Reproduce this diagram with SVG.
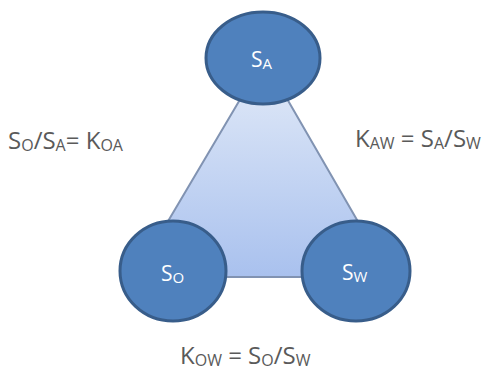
<svg xmlns="http://www.w3.org/2000/svg" width="487" height="370" viewBox="0 0 487 370">
<defs>
<linearGradient id="triFill" x1="0" y1="0" x2="0" y2="1">
<stop offset="0" stop-color="#e3ebf8"/>
<stop offset="1" stop-color="#a9c1ee"/>
</linearGradient>
<style>
.node{fill:#4f81bd;stroke:#385d8a;stroke-width:3}
.nt{font-family:"Open Sans","Liberation Sans",sans-serif;font-size:21px;fill:#ffffff}
.lb{font-family:"Open Sans","Liberation Sans",sans-serif;font-size:24px;fill:#5a5a5a}
.sub{font-size:15px}
.lb .sub{font-size:16px}
</style>
</defs>
<rect width="487" height="370" fill="#ffffff"/>
<g id="connectors">
<polygon points="264,59 135,277 390,277" fill="url(#triFill)" stroke="#8193b2" stroke-width="2"/>
</g>
<g id="node-SA">
<ellipse class="node" cx="263" cy="58" rx="57" ry="46"/>
<text class="nt" x="251" y="67">S<tspan class="sub" dy="2">A</tspan></text>
</g>
<g id="node-SO">
<ellipse class="node" cx="173" cy="271" rx="53" ry="50"/>
<text class="nt" x="161" y="281">S<tspan class="sub" dy="2">O</tspan></text>
</g>
<g id="node-SW">
<ellipse class="node" cx="356" cy="271" rx="54" ry="50"/>
<text class="nt" x="342" y="280">S<tspan class="sub" dy="2">W</tspan></text>
</g>
<g id="labels">
<text class="lb" x="8" y="149">S<tspan class="sub" dy="2">O</tspan><tspan dy="-2">/S</tspan><tspan class="sub" dy="2">A</tspan><tspan dy="-2">= K</tspan><tspan class="sub" dy="2">OA</tspan></text>
<text class="lb" x="355" y="147">K<tspan class="sub" dy="2">AW</tspan><tspan dy="-2"> = S</tspan><tspan class="sub" dy="2">A</tspan><tspan dy="-2">/S</tspan><tspan class="sub" dy="2">W</tspan></text>
<text class="lb" x="180" y="364">K<tspan class="sub" dy="2">OW</tspan><tspan dy="-2"> = S</tspan><tspan class="sub" dy="2">O</tspan><tspan dy="-2">/S</tspan><tspan class="sub" dy="2">W</tspan></text>
</g>
</svg>
